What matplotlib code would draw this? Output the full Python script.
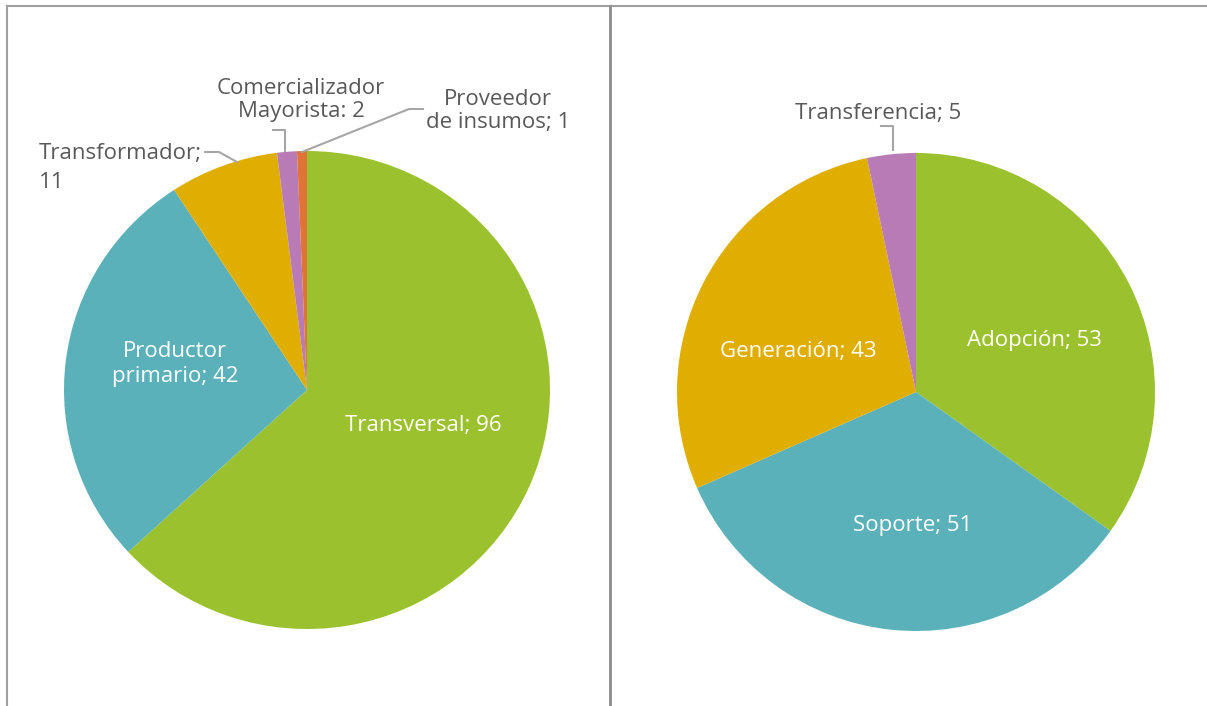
import matplotlib
matplotlib.use("Agg")
from matplotlib import pyplot as plt
from matplotlib.lines import Line2D

plt.rcParams['font.family'] = ['Open Sans', 'DejaVu Sans']

# datos
actores = ['Transversal', 'Productor\nprimario', 'Transformador', 'Comercializador\nMayorista', 'Proveedor\nde insumos']
actores_val = [96, 42, 11, 2, 1]
etapas = ['Adopción', 'Soporte', 'Generación', 'Transferencia']
etapas_val = [53, 51, 43, 5]

colores = ['#9BC12E', '#5BB1B9', '#E0AE00', '#B87BB5', '#E07436']
gris_txt = '#595959'
gris_lin = '#A6A6A6'

W, H = 1207, 706
fig = plt.figure(figsize=(W / 100, H / 100), dpi=100)


def fx(x):
    return x / W


def fy(y):
    return 1 - y / H


def pie_ax(cx, cy, rx, ry, vals, cols):
    ax = fig.add_axes([fx(cx - rx), fy(cy + ry), 2 * rx / W, 2 * ry / H])
    ax.pie(vals, colors=cols, startangle=90, counterclock=False, radius=1,
           wedgeprops=dict(linewidth=0))
    ax.set_xlim(-1, 1)
    ax.set_ylim(-1, 1)
    ax.set_aspect('auto')
    ax.axis('off')
    return ax


pie_ax(307, 390, 243, 239, actores_val, colores)
pie_ax(916, 392, 239, 239, etapas_val, colores[:4])


def txt(x, y, s, color=gris_txt, ha='center', ls=1.2):
    fig.text(fx(x), fy(y), s, color=color, ha=ha, va='center', fontsize=16,
             linespacing=ls)


def linea(pts, color=gris_lin, lw=1.5):
    xs = [fx(p[0]) for p in pts]
    ys = [fy(p[1]) for p in pts]
    fig.add_artist(Line2D(xs, ys, color=color, lw=lw, transform=fig.transFigure))


# etiquetas grafico izquierdo
txt(423, 425, '%s; %d' % (actores[0], actores_val[0]), color='white')
txt(175, 364, '%s; %d' % (actores[1], actores_val[1]), color='white')
txt(39, 168, '%s;\n%d' % (actores[2], actores_val[2]), ha='left', ls=1.55)
txt(301, 100, '%s: %d' % (actores[3], actores_val[3]), ls=1.1)
txt(498, 111, '%s; %d' % (actores[4], actores_val[4]), ls=1.1)

linea([(205, 152), (219, 152), (237, 162)])
linea([(273, 130), (285, 130), (285, 151)])
linea([(423, 109), (409, 109), (302, 152)])

# etiquetas grafico derecho
txt(1034, 341, '%s; %d' % (etapas[0], etapas_val[0]), color='white')
txt(913, 525, '%s; %d' % (etapas[1], etapas_val[1]), color='white')
txt(798, 351, '%s; %d' % (etapas[2], etapas_val[2]), color='white')
txt(878, 113, '%s; %d' % (etapas[3], etapas_val[3]))
linea([(881, 126), (893, 126), (893, 150)])

# marcos
linea([(7, 6), (W, 6)], color='#A0A0A0', lw=1.5)
linea([(7, 6), (7, H)], color='#A0A0A0', lw=1.5)
linea([(610, 6), (610, H)], color='#8C8C8C', lw=2)

fig.savefig('out.png', dpi=100)
